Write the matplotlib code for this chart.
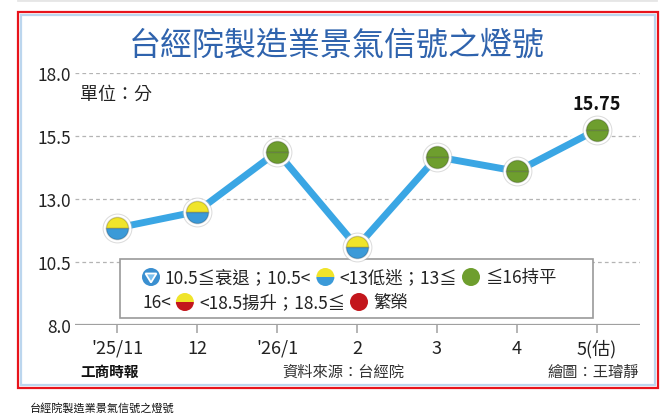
import matplotlib.pyplot as plt
import matplotlib.patheffects as pe
from matplotlib.patches import Rectangle, Circle, Wedge, Polygon

plt.rcParams['font.family'] = ['Noto Sans CJK TC', 'DejaVu Sans']

# 資料
months = ["'25/11", '12', "'26/1", '2', '3', '4', '5(估)']
scores = [11.85, 12.5, 14.87, 11.1, 14.67, 14.1, 15.75]
yticks = [8.0, 10.5, 13.0, 15.5, 18.0]
title = '台經院製造業景氣信號之燈號'

W, H = 670, 414
fig = plt.figure(figsize=(6.7, 4.14), dpi=100)

# 背景座標 (像素)
bg = fig.add_axes([0, 0, 1, 1])
bg.set_xlim(0, W)
bg.set_ylim(H, 0)
bg.axis('off')

# 外框
bg.plot([18, 656], [1, 1], color='#e6e6e6', lw=2)
bg.add_patch(Rectangle((18, 13), 640, 376, fill=False, ec='#e8141c', lw=1.6))
bg.add_patch(Rectangle((21, 16), 634, 370, fill=False, ec='#bcd6ee', lw=1.6))

bg.text(337, 46, title, ha='center', va='center', fontsize=23, color='#2f63ad')
bg.text(80, 95, '單位：分', ha='left', va='center', fontsize=13, color='#222222')

# 頁尾
bg.text(80, 372, '工商時報', ha='left', va='center', fontsize=10.5,
        fontweight='bold', color='#111111')
bg.text(343, 372, '資料來源：台經院', ha='center', va='center', fontsize=11, color='#333333')
bg.text(639, 372, '繪圖：王璿靜', ha='right', va='center', fontsize=11, color='#333333')
bg.text(30, 408, title, ha='left', va='center', fontsize=8, color='#111111')

# 主圖
ax = fig.add_axes([75 / W, (H - 326) / H, 565 / W, 252 / H])
ax.patch.set_alpha(0)
x = list(range(len(months)))
ax.set_xlim(-0.525, 6.5375)
ax.set_ylim(8, 18)
for s in ax.spines.values():
    s.set_visible(False)

for yv in yticks[1:]:
    ax.axhline(yv, color='#b4b4b4', lw=0.9, dashes=(3, 2.5), zorder=0)
ax.axhline(8, color='#a0a0a0', lw=1.6, zorder=0)

ax.set_yticks(yticks)
ax.set_yticklabels([f'{v:.1f}' for v in yticks], fontsize=12.5, color='#222222')
ax.tick_params(axis='y', length=0, pad=3)
ax.set_xticks(x)
ax.set_xticklabels(months, fontsize=13, color='#222222')
ax.tick_params(axis='x', length=6, width=1.2, color='#a8a8a8', pad=4)

# 折線
ax.plot(x, scores, color='#3aa6e4', lw=5, solid_joinstyle='miter', zorder=3,
        path_effects=[pe.Stroke(linewidth=9, foreground='white'), pe.Normal()])


def light(v):
    if v <= 10.5:
        return ('#3a8fd0', '#3a8fd0')
    if v < 13:
        return ('#f0e42a', '#3b9ad8')
    if v <= 16:
        return ('#6e9e2e', '#6e9e2e')
    if v < 18.5:
        return ('#f0e42a', '#c3161c')
    return ('#c3161c', '#c3161c')


for xi, v in zip(x, scores):
    top, bot = light(v)
    ax.plot([xi], [v], marker='o', ms=21.5, color='#bbbbbb', alpha=0.5, mew=0,
            zorder=4, clip_on=False)
    ax.plot([xi], [v], marker='o', ms=20, color='white', mew=0, zorder=5, clip_on=False)
    ax.plot([xi], [v], marker='o', ms=16, fillstyle='top', markerfacecolor=top,
            markerfacecoloralt=bot, markeredgecolor='#00000030', mew=1,
            zorder=6, clip_on=False)

ax.annotate(f'{scores[-1]:.2f}', (x[-1], scores[-1]), xytext=(0, 19),
            textcoords='offset points', ha='center', va='center',
            fontsize=13, fontweight='bold', color='#111111')

# 圖例
T = bg.transData
ax.add_patch(Rectangle((120, 260), 473, 59, transform=T, fc='white', ec='#9a9a9a',
                       lw=1.2, zorder=2, clip_on=False))
renderer = fig.canvas.get_renderer()
R = 9
DOWN = ('down', 'down')


def icon(cx, cy, kind):
    if kind == DOWN:
        ax.add_patch(Circle((cx, cy), R, transform=T, fc='#3a8fd0', ec='none',
                            zorder=3, clip_on=False))
        ax.add_patch(Polygon([(cx - 5.5, cy - 3.5), (cx + 5.5, cy - 3.5), (cx, cy + 5.5)],
                             transform=T, fc='#7cc0ee', ec='white', lw=1.3,
                             zorder=4, clip_on=False))
        return
    top, bot = kind
    ax.add_patch(Wedge((cx, cy), R, 180, 360, transform=T, fc=top, ec='none',
                       zorder=3, clip_on=False))
    ax.add_patch(Wedge((cx, cy), R, 0, 180, transform=T, fc=bot, ec='none',
                       zorder=3, clip_on=False))


def legend_line(x0, y0, items):
    cx = x0
    for it in items:
        if isinstance(it, str):
            t = ax.text(cx, y0, it, transform=T, ha='left', va='center', fontsize=12.5,
                        color='#222222', zorder=4, clip_on=False)
            cx = t.get_window_extent(renderer).x1 + 5
        else:
            icon(cx + R, y0, it)
            cx = cx + 2 * R + 5


legend_line(142, 278, [DOWN, '10.5≦衰退；10.5<', ('#f0e42a', '#3b9ad8'),
                       '<13低迷；13≦', ('#6e9e2e', '#6e9e2e'), '≦16持平'])
legend_line(142, 303, ['16<', ('#f0e42a', '#c3161c'), '<18.5揚升；18.5≦',
                       ('#c3161c', '#c3161c'), '繁榮'])

fig.savefig('out.png', dpi=100)
